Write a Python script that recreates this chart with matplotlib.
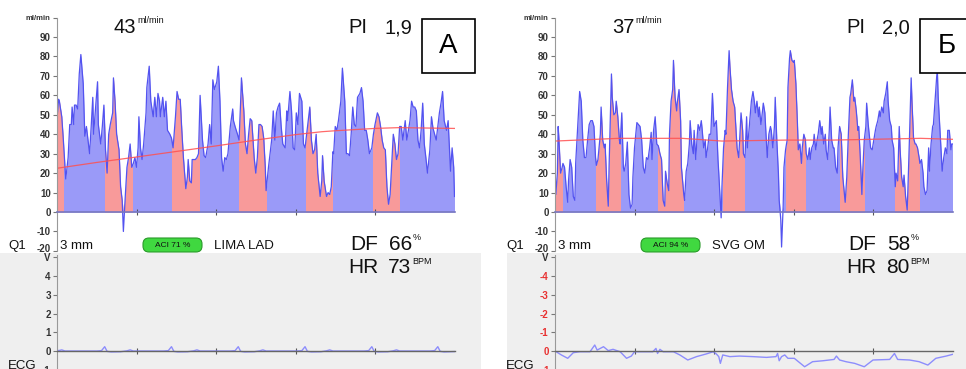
import numpy as np
import matplotlib
matplotlib.use('Agg')
import matplotlib.pyplot as plt
from matplotlib.patches import Rectangle, FancyBboxPatch
from matplotlib.transforms import Affine2D, ScaledTranslation

plt.rcParams['font.family'] = ['Liberation Sans', 'DejaVu Sans']

W, H = 966, 369

# ---------- panel A : LIMA LAD ----------
a_t = [0.00, 0.02, 0.03, 0.06, 0.08, 0.11, 0.14, 0.16, 0.18, 0.19,
       0.21, 0.22, 0.24, 0.26, 0.28, 0.30, 0.33, 0.35, 0.37, 0.39,
       0.41, 0.43, 0.45, 0.46, 0.49, 0.51, 0.52, 0.55, 0.57, 0.59,
       0.61, 0.63, 0.65, 0.67, 0.70, 0.71, 0.73, 0.75, 0.78, 0.80,
       0.82, 0.835, 0.86, 0.88, 0.90, 0.92, 0.94, 0.96, 0.98, 1.00,
       1.02, 1.03, 1.05, 1.07, 1.09, 1.12, 1.13, 1.16, 1.18, 1.21,
       1.23, 1.25, 1.27, 1.29, 1.30, 1.33, 1.35, 1.37, 1.39, 1.42,
       1.44, 1.46, 1.49, 1.51, 1.53, 1.55, 1.57, 1.59, 1.62, 1.64,
       1.65, 1.67, 1.69, 1.70, 1.72, 1.74, 1.76, 1.78, 1.80, 1.83,
       1.85, 1.87, 1.90, 1.92, 1.94, 1.96, 1.98, 2.01, 2.03, 2.05,
       2.07, 2.09, 2.11, 2.13, 2.15, 2.18, 2.21, 2.22, 2.24, 2.27,
       2.29, 2.31, 2.32, 2.35, 2.37, 2.39, 2.41, 2.43, 2.45, 2.48,
       2.50, 2.52, 2.54, 2.56, 2.58, 2.60, 2.62, 2.63, 2.66, 2.68,
       2.70, 2.72, 2.74, 2.76, 2.78, 2.80, 2.82, 2.84, 2.87, 2.89,
       2.90, 2.93, 2.95, 2.97, 2.99, 3.01, 3.03, 3.05, 3.08, 3.10,
       3.12, 3.14, 3.16, 3.18, 3.20, 3.22, 3.24, 3.26, 3.28, 3.31,
       3.33, 3.34, 3.36, 3.39, 3.41, 3.43, 3.45, 3.47, 3.48, 3.50,
       3.52, 3.54, 3.57, 3.59, 3.62, 3.64, 3.66, 3.68, 3.70, 3.72,
       3.74, 3.76, 3.78, 3.81, 3.83, 3.85, 3.87, 3.89, 3.91, 3.93,
       3.96, 3.98, 4.00, 4.03, 4.05, 4.07, 4.09, 4.11, 4.13, 4.15,
       4.17, 4.19, 4.21, 4.23, 4.25, 4.27, 4.29, 4.31, 4.33, 4.35,
       4.38, 4.40, 4.42, 4.44, 4.46, 4.48, 4.50, 4.52, 4.54, 4.56,
       4.58, 4.60, 4.62, 4.64, 4.66, 4.69, 4.71, 4.73, 4.75, 4.77,
       4.79, 4.81, 4.83, 4.85, 4.87, 4.90, 4.92, 4.94, 4.95, 4.97,
       4.99, 5.00]
a_flow = [48, 58, 57, 49, 37, 17, 28, 45, 45, 54,
          45, 55, 55, 53, 71, 81, 66, 39, 44, 37,
          30, 44, 59, 40, 56, 67, 45, 35, 44, 55,
          32, 20, 40, 45, 51, 69, 57, 40, 32, 13,
          6, -10, 9, 23, 28, 35, 23, 25, 28, 23,
          33, 49, 33, 27, 35, 51, 64, 75, 57, 49,
          59, 49, 61, 57, 49, 59, 49, 57, 42, 40,
          38, 33, 49, 62, 58, 58, 42, 28, 12, 18,
          27, 16, 15, 27, 27, 27, 28, 30, 60, 37,
          29, 28, 35, 45, 35, 68, 63, 67, 75, 57,
          28, 21, 28, 27, 30, 44, 53, 47, 44, 40,
          37, 57, 69, 52, 35, 30, 40, 48, 47, 28,
          20, 28, 45, 45, 44, 38, 23, 11, 23, 30,
          37, 52, 37, 51, 54, 56, 44, 35, 33, 52,
          47, 62, 52, 33, 32, 51, 45, 61, 57, 35,
          33, 40, 47, 54, 37, 30, 32, 40, 20, 8,
          16, 29, 16, 8, 10, 9, 13, 31, 30, 44,
          42, 47, 57, 74, 57, 30, 30, 29, 40, 54,
          45, 44, 59, 61, 64, 57, 42, 42, 37, 30,
          33, 40, 45, 51, 49, 44, 37, 33, 32, 13,
          4, 9, 25, 40, 35, 27, 30, 44, 44, 37,
          47, 37, 42, 47, 57, 54, 54, 52, 37, 33,
          42, 56, 35, 28, 20, 32, 49, 43, 40, 37,
          44, 51, 56, 62, 47, 42, 47, 30, 21, 33,
          23, 8]
a_red_start = [0.00, 0.61, 1.45, 2.29, 3.13, 3.97]
a_red_end = [0.08, 0.94, 1.78, 2.63, 3.46, 4.30]
a_trend_t = [0, 0.5, 1.0, 1.65, 2.0, 2.5, 3.0, 3.33, 3.5, 4.0, 4.3, 5.0]
a_trend = [22.5, 25.5, 28.3, 32, 34, 37, 39.8, 41.3, 41.8, 43, 43.4, 43]
a_ecg_t = [0.00, 0.03, 0.06, 0.10,
           0.50, 0.56, 0.60, 0.63, 0.68, 0.80, 0.88, 0.92, 0.96,
           1.34, 1.40, 1.44, 1.47, 1.52, 1.64, 1.72, 1.76, 1.80,
           2.18, 2.24, 2.28, 2.31, 2.36, 2.48, 2.55, 2.59, 2.63,
           3.02, 3.08, 3.12, 3.15, 3.20, 3.32, 3.39, 3.43, 3.47,
           3.86, 3.92, 3.96, 3.99, 4.04, 4.16, 4.23, 4.27, 4.31,
           4.69, 4.75, 4.79, 4.82, 4.87, 5.00]
a_ecg = [0.02, 0.03, 0.06, 0.0,
         0.0, 0.02, 0.23, -0.02, -0.05, -0.04, 0.01, 0.06, 0.0,
         0.0, 0.02, 0.23, -0.02, -0.05, -0.04, 0.01, 0.06, 0.0,
         0.0, 0.02, 0.23, -0.02, -0.05, -0.04, 0.01, 0.06, 0.0,
         0.0, 0.02, 0.23, -0.02, -0.05, -0.04, 0.01, 0.06, 0.0,
         0.0, 0.02, 0.23, -0.02, -0.05, -0.04, 0.01, 0.06, 0.0,
         0.0, 0.02, 0.23, -0.02, -0.05, -0.03]

# ---------- panel Б : SVG OM ----------
b_t = [0.00, 0.01, 0.03, 0.04, 0.05, 0.07, 0.09, 0.10, 0.12, 0.14,
       0.16, 0.17, 0.19, 0.21, 0.23, 0.25, 0.26, 0.29, 0.31, 0.33,
       0.35, 0.37, 0.39, 0.41, 0.43, 0.45, 0.47, 0.49, 0.51, 0.52,
       0.54, 0.57, 0.58, 0.60, 0.62, 0.63, 0.65, 0.67, 0.68, 0.70,
       0.71, 0.72, 0.74, 0.76, 0.77, 0.79, 0.81, 0.82, 0.84, 0.86,
       0.87, 0.89, 0.91, 0.93, 0.95, 0.97, 0.98, 1.00, 1.03, 1.05,
       1.07, 1.09, 1.11, 1.13, 1.15, 1.17, 1.19, 1.21, 1.22, 1.24,
       1.26, 1.28, 1.30, 1.32, 1.34, 1.36, 1.38, 1.39, 1.41, 1.43,
       1.44, 1.46, 1.48, 1.49, 1.51, 1.53, 1.54, 1.56, 1.58, 1.59,
       1.62, 1.63, 1.65, 1.67, 1.69, 1.70, 1.72, 1.74, 1.75, 1.77,
       1.79, 1.80, 1.82, 1.84, 1.85, 1.87, 1.89, 1.90, 1.92, 1.94,
       1.96, 1.98, 2.00, 2.01, 2.03, 2.05, 2.06, 2.08, 2.09, 2.10,
       2.12, 2.14, 2.15, 2.17, 2.19, 2.20, 2.22, 2.24, 2.26, 2.27,
       2.29, 2.31, 2.32, 2.34, 2.36, 2.37, 2.39, 2.41, 2.42, 2.44,
       2.46, 2.47, 2.49, 2.51, 2.52, 2.54, 2.56, 2.57, 2.59, 2.61,
       2.62, 2.64, 2.66, 2.67, 2.69, 2.71, 2.72, 2.74, 2.76, 2.77,
       2.79, 2.81, 2.82, 2.84, 2.85, 2.87, 2.88, 2.90, 2.92, 2.93,
       2.95, 2.96, 2.98, 3.00, 3.01, 3.03, 3.05, 3.06, 3.08, 3.10,
       3.11, 3.13, 3.15, 3.16, 3.18, 3.20, 3.21, 3.23, 3.25, 3.26,
       3.28, 3.30, 3.31, 3.33, 3.35, 3.36, 3.38, 3.40, 3.41, 3.43,
       3.45, 3.46, 3.48, 3.50, 3.51, 3.53, 3.55, 3.56, 3.58, 3.60,
       3.62, 3.64, 3.65, 3.67, 3.69, 3.71, 3.72, 3.74, 3.76, 3.77,
       3.79, 3.81, 3.82, 3.84, 3.86, 3.87, 3.89, 3.91, 3.92, 3.94,
       3.96, 3.97, 3.99, 4.01, 4.03, 4.04, 4.06, 4.08, 4.09, 4.11,
       4.13, 4.14, 4.16, 4.18, 4.19, 4.21, 4.23, 4.24, 4.26, 4.28,
       4.29, 4.31, 4.33, 4.34, 4.36, 4.38, 4.39, 4.41, 4.43, 4.44,
       4.46, 4.48, 4.49, 4.51, 4.53, 4.54, 4.56, 4.58, 4.59, 4.61,
       4.63, 4.64, 4.66, 4.68, 4.70, 4.71, 4.73, 4.75, 4.76, 4.78,
       4.80, 4.81, 4.82, 4.84, 4.86, 4.87, 4.89, 4.91, 4.93, 4.94,
       4.96, 4.98, 4.99, 5.00]
b_flow = [25, 9, 20, 44, 37, 20, 23, 25, 23, 13,
          5, 16, 27, 23, 8, 6, 25, 47, 62, 57,
          37, 28, 28, 37, 45, 47, 47, 44, 28, 24,
          27, 40, 54, 37, 33, 35, 16, 3, 23, 54,
          71, 59, 50, 51, 57, 49, 37, 35, 51, 23,
          21, 25, 36, 9, 2, 4, 18, 33, 46, 45,
          44, 37, 23, 20, 28, 27, 33, 41, 27, 42,
          49, 35, 34, 30, 27, 6, 3, 21, 15, 11,
          40, 57, 63, 78, 59, 52, 57, 63, 47, 23,
          9, 6, 21, 25, 35, 47, 35, 30, 42, 27,
          40, 45, 42, 47, 43, 33, 37, 28, 33, 40,
          40, 61, 44, 45, 47, 27, 20, 4, -3, 13,
          33, 42, 40, 64, 83, 75, 63, 57, 54, 47,
          33, 28, 35, 51, 42, 30, 28, 49, 33, 42,
          52, 57, 62, 56, 51, 57, 49, 54, 45, 52,
          56, 51, 35, 28, 40, 44, 42, 33, 44, 59,
          37, 20, 6, -4, -18, 3, 23, 32, 37, 64,
          79, 83, 78, 77, 78, 66, 45, 32, 35, 25,
          33, 40, 37, 30, 27, 33, 27, 33, 35, 40,
          32, 38, 40, 47, 40, 44, 35, 40, 32, 27,
          42, 54, 37, 33, 33, 23, 20, 33, 44, 40,
          18, 9, 5, 18, 40, 59, 61, 68, 57, 59,
          52, 42, 44, 28, 9, 20, 37, 44, 56, 45,
          37, 33, 32, 37, 42, 44, 47, 52, 49, 54,
          51, 57, 61, 67, 57, 47, 44, 37, 33, 13,
          20, 16, 44, 33, 18, 13, 19, 8, 1, 13,
          40, 69, 57, 38, 35, 35, 33, 28, 25, 27,
          20, 13, 9, 11, 33, 21, 35, 44, 45, 57,
          69, 72, 59, 44, 30, 21, 28, 33, 30, 42,
          42, 32, 35, 35]
b_red_start = [0.00, 0.52, 1.29, 2.11, 2.90, 3.59, 4.28]
b_red_end = [0.09, 0.82, 1.61, 2.38, 3.15, 3.89, 4.58]
b_trend_t = [0, 0.8, 1.6, 2.1, 2.9, 3.5, 4.6, 5.0]
b_trend = [36.5, 37.9, 37.9, 36.5, 37.0, 37.0, 37.9, 37.4]
b_ecg_t = [0.00, 0.08, 0.16, 0.23, 0.31, 0.44, 0.50, 0.53, 0.61, 0.67,
           0.73, 0.82, 0.90, 0.96, 1.00, 1.07, 1.23, 1.27, 1.29, 1.32,
           1.36, 1.49, 1.57, 1.67, 1.78, 1.90, 1.99, 2.03, 2.06, 2.08,
           2.11, 2.20, 2.32, 2.49, 2.66, 2.78, 2.80, 2.82, 2.85, 2.89,
           2.93, 3.01, 3.14, 3.24, 3.37, 3.51, 3.54, 3.58, 3.66, 3.77,
           3.89, 4.00, 4.21, 4.27, 4.31, 4.46, 4.58, 4.69, 4.79, 4.92, 5.00]
b_ecg = [0, 0.21, 0.39, 0.09, 0.04, 0.04, -0.32, -0.05, -0.23, -0.02,
         -0.09, 0.04, 0.39, 0.27, 0.04, 0.04, 0.04, -0.14, 0.13, -0.09,
         0.04, 0.04, 0.21, 0.48, 0.30, 0.16, 0.04, 0.16, 0.30, 0.66,
         0.21, 0.30, 0.27, 0.30, 0.34, 0.30, 0.13, 0.52, 0.30, 0.21,
         0.39, 0.39, 0.84, 0.57, 0.52, 0.45, 0.27, 0.48, 0.57, 0.66,
         0.84, 0.48, 0.45, 0.13, 0.45, 0.48, 0.57, 0.75, 0.39, 0.27, 0.18]

BLUE_FILL = '#9a9af8'
RED_FILL = '#f89a9a'
LINE = '#5353f0'

fig = plt.figure(figsize=(W / 100, H / 100), dpi=100)
# pixel coords measured from the top-left corner
T = Affine2D().scale(1.0 / W, -1.0 / H).translate(0, 1) + fig.transFigure


def txt(x, y, s, size, **kw):
    fig.text(x, y, s, transform=T, fontsize=size, va=kw.pop('va', 'baseline'),
             color=kw.pop('color', '#111111'), **kw)


def panel(dx, gray, t, flow, rs, re_, tr_t, tr, et, ev, flip,
          mean, pi, letter, aci, vessel, df, hr):
    fig.add_artist(Rectangle((gray[0], 253), gray[1] - gray[0], 130, transform=T,
                             facecolor='#efefef', edgecolor='none', zorder=0))

    # flow chart
    ax = fig.add_axes([(57 + dx) / W, (H - 250.9) / H, 397.5 / W, 233.3 / H])
    ax.set_facecolor('none')
    ax.set_xlim(0, 5)
    ax.set_ylim(-20, 100)
    t = np.array(t)
    f = np.array(flow, dtype=float)
    fpos = np.clip(f, 0, None)
    ax.fill_between(t, 0, fpos, color=BLUE_FILL, lw=0)
    for a, b in zip(rs, re_):
        poly = ax.fill_between(t, 0, fpos, color=RED_FILL, lw=0)
        poly.set_clip_path(Rectangle((a, -20), b - a, 120, transform=ax.transData))
    ax.plot(t, f, color=LINE, lw=0.9, solid_joinstyle='round')
    ax.plot(tr_t, tr, color='#ff5050', lw=0.9, alpha=0.85)
    for s in ['top', 'right']:
        ax.spines[s].set_visible(False)
    ax.spines['left'].set_color('#999999')
    ax.spines['left'].set_linewidth(0.8)
    ax.spines['bottom'].set_position(('data', 0))
    ax.spines['bottom'].set_color('#7878c0')
    ax.spines['bottom'].set_linewidth(1.2)
    ax.axhline(-20, 0, 0.008, color='#999999', lw=0.8)
    yt = list(range(-20, 101, 10))
    ax.set_yticks(yt, [str(v) for v in yt[:-1]] + ['ml/min'])
    ax.set_xticks([1, 2, 3, 4], [])
    ax.tick_params(axis='y', direction='out', length=3, width=0.8, color='#777777',
                   pad=1.5, labelsize=7, labelcolor='#333333')
    ax.tick_params(axis='x', direction='inout', length=5, width=0.8, color='#555555')
    labs = ax.get_yticklabels()
    for lab in labs:
        lab.set_fontweight('bold')
    labs[-1].set_fontsize(5.5)
    labs[0].set_transform(labs[0].get_transform()
                          + ScaledTranslation(0, 3 / 100, fig.dpi_scale_trans))

    # ECG chart
    ex = fig.add_axes([(57 + dx) / W, (H - 388.5) / H, 397.5 / W, 133.1 / H])
    ex.set_facecolor('none')
    ex.set_xlim(0, 5)
    if flip:
        ex.set_ylim(2, -5.1)
        et_ticks = list(range(-5, 2))
        et_labels = ['V', '-4', '-3', '-2', '-1', '0', '1']
    else:
        ex.set_ylim(-2, 5.1)
        et_ticks = list(range(-1, 6))
        et_labels = ['-1', '0', '1', '2', '3', '4', 'V']
    ex.plot(et, ev, color='#7c7cff', lw=1.0, alpha=0.85)
    for s in ['top', 'right']:
        ex.spines[s].set_visible(False)
    ex.spines['left'].set_color('#999999')
    ex.spines['left'].set_linewidth(0.8)
    ex.spines['bottom'].set_position(('data', 0))
    ex.spines['bottom'].set_color('#666666')
    ex.spines['bottom'].set_linewidth(1.0)
    ex.set_yticks(et_ticks, et_labels)
    ex.set_xticks([1, 2, 3, 4], [])
    ex.tick_params(axis='y', direction='out', length=3, width=0.8, color='#777777',
                   pad=1.5, labelsize=7, labelcolor='#333333')
    ex.tick_params(axis='x', direction='inout', length=5, width=0.8, color='#555555')
    for lab in ex.get_yticklabels():
        lab.set_fontweight('bold')
        if flip and lab.get_text() != 'V':
            lab.set_color('#e83030')

    # texts
    txt(114 + dx, 33, mean, 14.5)
    txt(137 + dx, 23, 'ml/min', 6.5)
    txt(348 + dx, 33, 'PI', 14.5)
    txt(384 + dx, 33, pi, 14.5)
    fig.add_artist(Rectangle((422 + dx, 19), 53, 54, transform=T, facecolor='white',
                             edgecolor='black', lw=1.2, zorder=5))
    fig.text(448.5 + dx, 53, letter, transform=T, fontsize=20, ha='center',
             va='baseline', zorder=6)
    txt(8 + dx, 249, 'Q1', 9.5)
    txt(60 + dx, 249, '3 mm', 9.5)
    fig.add_artist(FancyBboxPatch((143 + dx, 238), 59, 14, transform=T,
                                  boxstyle='round,pad=0,rounding_size=6',
                                  facecolor='#40d840', edgecolor='#2a9a2a', lw=0.8))
    txt(172.5 + dx, 245.5, aci, 6, ha='center', va='center')
    txt(214 + dx, 249, vessel, 9.5)
    txt(350 + dx, 250, 'DF', 15)
    txt(389 + dx, 250, df, 15)
    txt(413 + dx, 240, '%', 6.5)
    txt(348 + dx, 273, 'HR', 15)
    txt(388 + dx, 273, hr, 15)
    txt(412 + dx, 264, 'BPM', 6.5)
    txt(8 + dx, 369, 'ECG', 9.5)


panel(0, (0, 481), a_t, a_flow, a_red_start, a_red_end, a_trend_t, a_trend,
      a_ecg_t, a_ecg, False, '43', '1,9', 'A', 'ACI 71 %', 'LIMA LAD', '66', '73')
panel(498, (507, 966), b_t, b_flow, b_red_start, b_red_end, b_trend_t, b_trend,
      b_ecg_t, b_ecg, True, '37', '2,0', 'Б', 'ACI 94 %', 'SVG OM', '58', '80')

fig.savefig('out.png', dpi=100)
